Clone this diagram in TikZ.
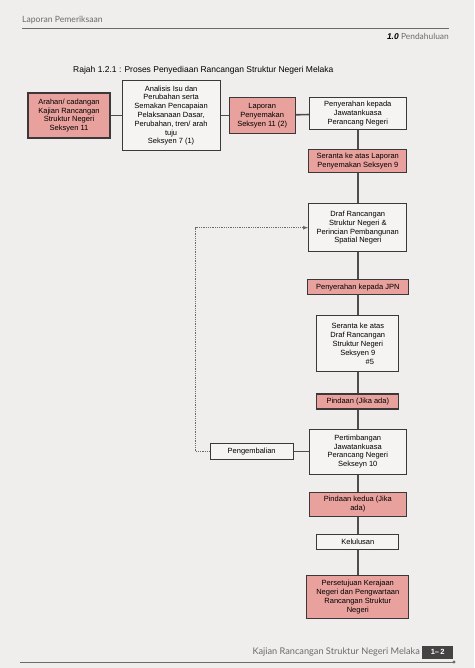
\documentclass[tikz,border=0pt]{standalone}
\usepackage{fontspec}
\setmainfont{Liberation Sans}
\newfontfamily\hiasan{Lato}
\usetikzlibrary{positioning,arrows}
\definecolor{kertas}{RGB}{239,238,236}
\definecolor{merahjambu}{RGB}{232,161,156}
\definecolor{putih}{RGB}{245,244,242}
\definecolor{garis}{RGB}{58,56,56}
\definecolor{kelabu}{RGB}{110,106,104}

\begin{document}
\begin{tikzpicture}[x=1pt,y=-1pt]
\tikzstyle{whitebox}=[rectangle, draw=garis, line width=1.1pt, fill=putih, align=center, inner sep=1pt, font=\fontsize{7.5}{8.8}\selectfont]
\tikzstyle{pinkbox}=[whitebox, fill=merahjambu]
\tikzstyle{connect}=[draw=garis!90, line width=1.6pt]
\tikzstyle{back}=[-latex, densely dotted, draw=kelabu, line width=0.8pt]
  % page and header
  \fill[kertas] (0,0) rectangle (474,668);
  \useasboundingbox (0,0) rectangle (474,668);
  \node[anchor=west, inner sep=0pt, text=kelabu, font=\hiasan\fontsize{8.6}{10}\selectfont] (kepala) at (22,20) {Laporan Pemeriksaan};
  \draw[kelabu, line width=0.8pt] (22,28) -- (449,28);
  \node[anchor=east, inner sep=0pt, font=\fontsize{8.4}{9}\selectfont] (bab) at (449,36) {\textbf{\textit{1.0}} {\hiasan\color{kelabu}Pendahuluan}};
  \node[anchor=west, inner sep=0pt, font=\fontsize{8.5}{9}\selectfont] (tajuk) at (73,70) {Rajah 1.2.1 : Proses Penyediaan Rancangan Struktur Negeri Melaka};
  % top row
  \node[pinkbox, minimum width=82pt, minimum height=45pt] (arahan) at (69,115.5) {Arahan/ cadangan\\Kajian Rancangan\\Struktur Negeri\\Seksyen 11};
  \node[whitebox, minimum width=98pt, minimum height=70pt] (analisis) [right=11pt of arahan] {Analisis Isu dan\\Perubahan serta\\Semakan Pencapaian\\Pelaksanaan Dasar,\\Perubahan, tren/ arah\\tuju\\Seksyen 7 (1)};
  \node[pinkbox, minimum width=66pt, minimum height=36pt] (laporan) [right=8pt of analisis] {Laporan\\Penyemakan\\Seksyen 11 (2)};
  \node[whitebox, minimum width=97pt, minimum height=32pt] (serah) [right=13pt of laporan, yshift=2pt] {Penyerahan kepada\\Jawatankuasa\\Perancang Negeri};
  % main column
  \node[pinkbox, minimum width=98pt, minimum height=23pt] (seranta) [below=19pt of serah] {Seranta ke atas Laporan\\Penyemakan Seksyen 9};
  \node[whitebox, minimum width=98pt, minimum height=48pt] (draf) [below=30pt of seranta] {Draf Rancangan\\Struktur Negeri \&\\Perincian Pembangunan\\Spatial Negeri};
  \node[pinkbox, minimum width=101pt, minimum height=15pt] (jpn) [below=27pt of draf] {Penyerahan kepada JPN};
  \node[whitebox, minimum width=82pt, minimum height=56pt] (semak) [below=20pt of jpn] {Seranta ke atas\\Draf Rancangan\\Struktur Negeri\\Seksyen 9\\\hspace*{3.2em}\#5};
  \node[pinkbox, minimum width=82pt, minimum height=15pt] (pindaan) [below=21pt of semak] {Pindaan (Jika ada)};
  \node[whitebox, minimum width=97pt, minimum height=45pt] (timbang) [below=19pt of pindaan] {Pertimbangan\\Jawatankuasa\\Perancang Negeri\\Sekseyn 10};
  \node[whitebox, minimum width=83pt, minimum height=16pt] (balik) [left=15pt of timbang] {Pengembalian};
  \node[pinkbox, minimum width=97pt, minimum height=24pt] (pindaandua) [below=17pt of timbang] {Pindaan kedua (Jika\\ada)};
  \node[whitebox, minimum width=82pt, minimum height=15pt] (lulus) [below=17pt of pindaandua] {Kelulusan};
  \node[pinkbox, minimum width=102pt, minimum height=43pt] (warta) [below=25pt of lulus] {Persetujuan Kerajaan\\Negeri dan Pengwartaan\\Rancangan Struktur\\Negeri};
  \path (arahan) edge [connect] (analisis)
        (analisis) edge [connect] (laporan)
        (laporan) edge [connect] (serah)
        (serah) edge [connect] (seranta)
        (seranta) edge [connect] (draf)
        (draf) edge [connect] (jpn)
        (jpn) edge [connect] (semak)
        (semak) edge [connect] (pindaan)
        (pindaan) edge [connect] (timbang)
        (timbang) edge [connect] (balik)
        (timbang) edge [connect] (pindaandua)
        (pindaandua) edge [connect] (lulus)
        (lulus) edge [connect] (warta);
  \draw[back] (balik.west) -- ++(-14,0) |- (draf.west);
  % footer
  \node[anchor=east, inner sep=1pt, text=kelabu, font=\hiasan\fontsize{9.2}{10}\selectfont] (kaki) at (421,652) {Kajian Rancangan Struktur Negeri Melaka};
  \node[fill=garis!95, text=white, font=\bfseries\fontsize{7.5}{9}\selectfont, minimum width=31pt, minimum height=13pt, inner sep=0pt] (muka) [right=1pt of kaki] {1--\,2};
  \draw[kelabu, line width=1pt] (20,662) -- (454,662);
  \fill[kelabu] (454,662) circle (1.6);
\end{tikzpicture}
\end{document}
